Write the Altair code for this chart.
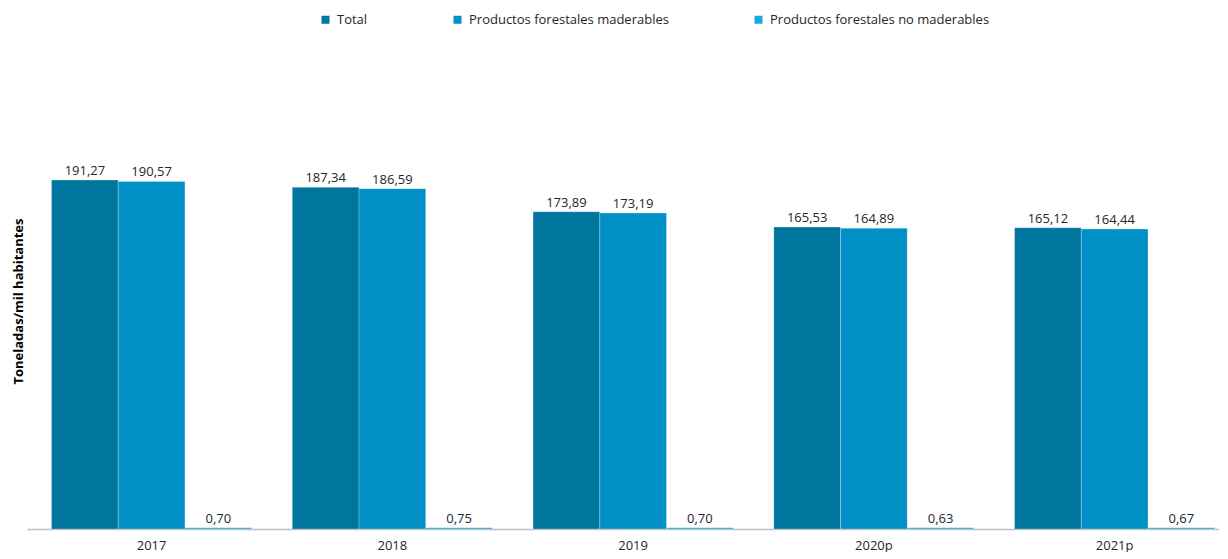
import altair as alt
import pandas as pd

years = ["2017", "2018", "2019", "2020p", "2021p"]
series = ["Total", "Productos forestales maderables", "Productos forestales no maderables"]
total = [191.27, 187.34, 173.89, 165.53, 165.12]
maderables = [190.57, 186.59, 173.19, 164.89, 164.44]
no_maderables = [0.70, 0.75, 0.70, 0.63, 0.67]
colors = ["#00769F", "#0090C5", "#1AA7E0"]

rows = []
for i, y in enumerate(years):
    for s, vals in zip(series, [total, maderables, no_maderables]):
        v = vals[i]
        rows.append({"year": y, "serie": s, "value": v,
                     "label": f"{v:.2f}".replace(".", ",")})
df = pd.DataFrame(rows)

FONT = "Open Sans"

base = alt.Chart(df).encode(
    x=alt.X("year:N", sort=years, title=None,
            scale=alt.Scale(paddingInner=0.169, paddingOuter=0.06, align=0.85),
            axis=alt.Axis(labelAngle=0, ticks=False, domainColor="#BFBFBF",
                          domainWidth=1.5, labelFontSize=13, labelColor="#262626",
                          labelFont=FONT, labelPadding=10)),
    xOffset=alt.XOffset("serie:N", sort=series),
)

bars = base.mark_bar(stroke="#ffffff", strokeWidth=0.4, strokeOpacity=0.6).encode(
    y=alt.Y("value:Q", scale=alt.Scale(domain=[0, 250], nice=False),
            axis=alt.Axis(title="Toneladas/mil habitantes", labels=False, ticks=False,
                          domain=False, grid=False, titleFontSize=13,
                          titleFont=FONT, titleFontWeight="bold",
                          titleColor="#000000", titlePadding=2)),
    color=alt.Color("serie:N", sort=series,
                    scale=alt.Scale(domain=series, range=colors),
                    legend=alt.Legend(title=None, orient="none", direction="horizontal",
                                      legendX=292, legendY=-60, symbolType="square",
                                      symbolSize=64, symbolStrokeWidth=0,
                                      labelOffset=5,
                                      labelFontSize=13, labelFont=FONT,
                                      labelColor="#262626", columnPadding=83,
                                      labelLimit=400)),
)

text = base.mark_text(dy=-9, fontSize=13, font=FONT, color="#262626").encode(
    y=alt.Y("value:Q"),
    text="label:N",
)

chart = (bars + text).properties(
    width=1192, height=456,
    padding={"left": 4, "top": 5, "right": 0, "bottom": 0},
).configure_view(stroke=None)

chart.save("out.html", embed_options={"renderer": "svg", "actions": False})
